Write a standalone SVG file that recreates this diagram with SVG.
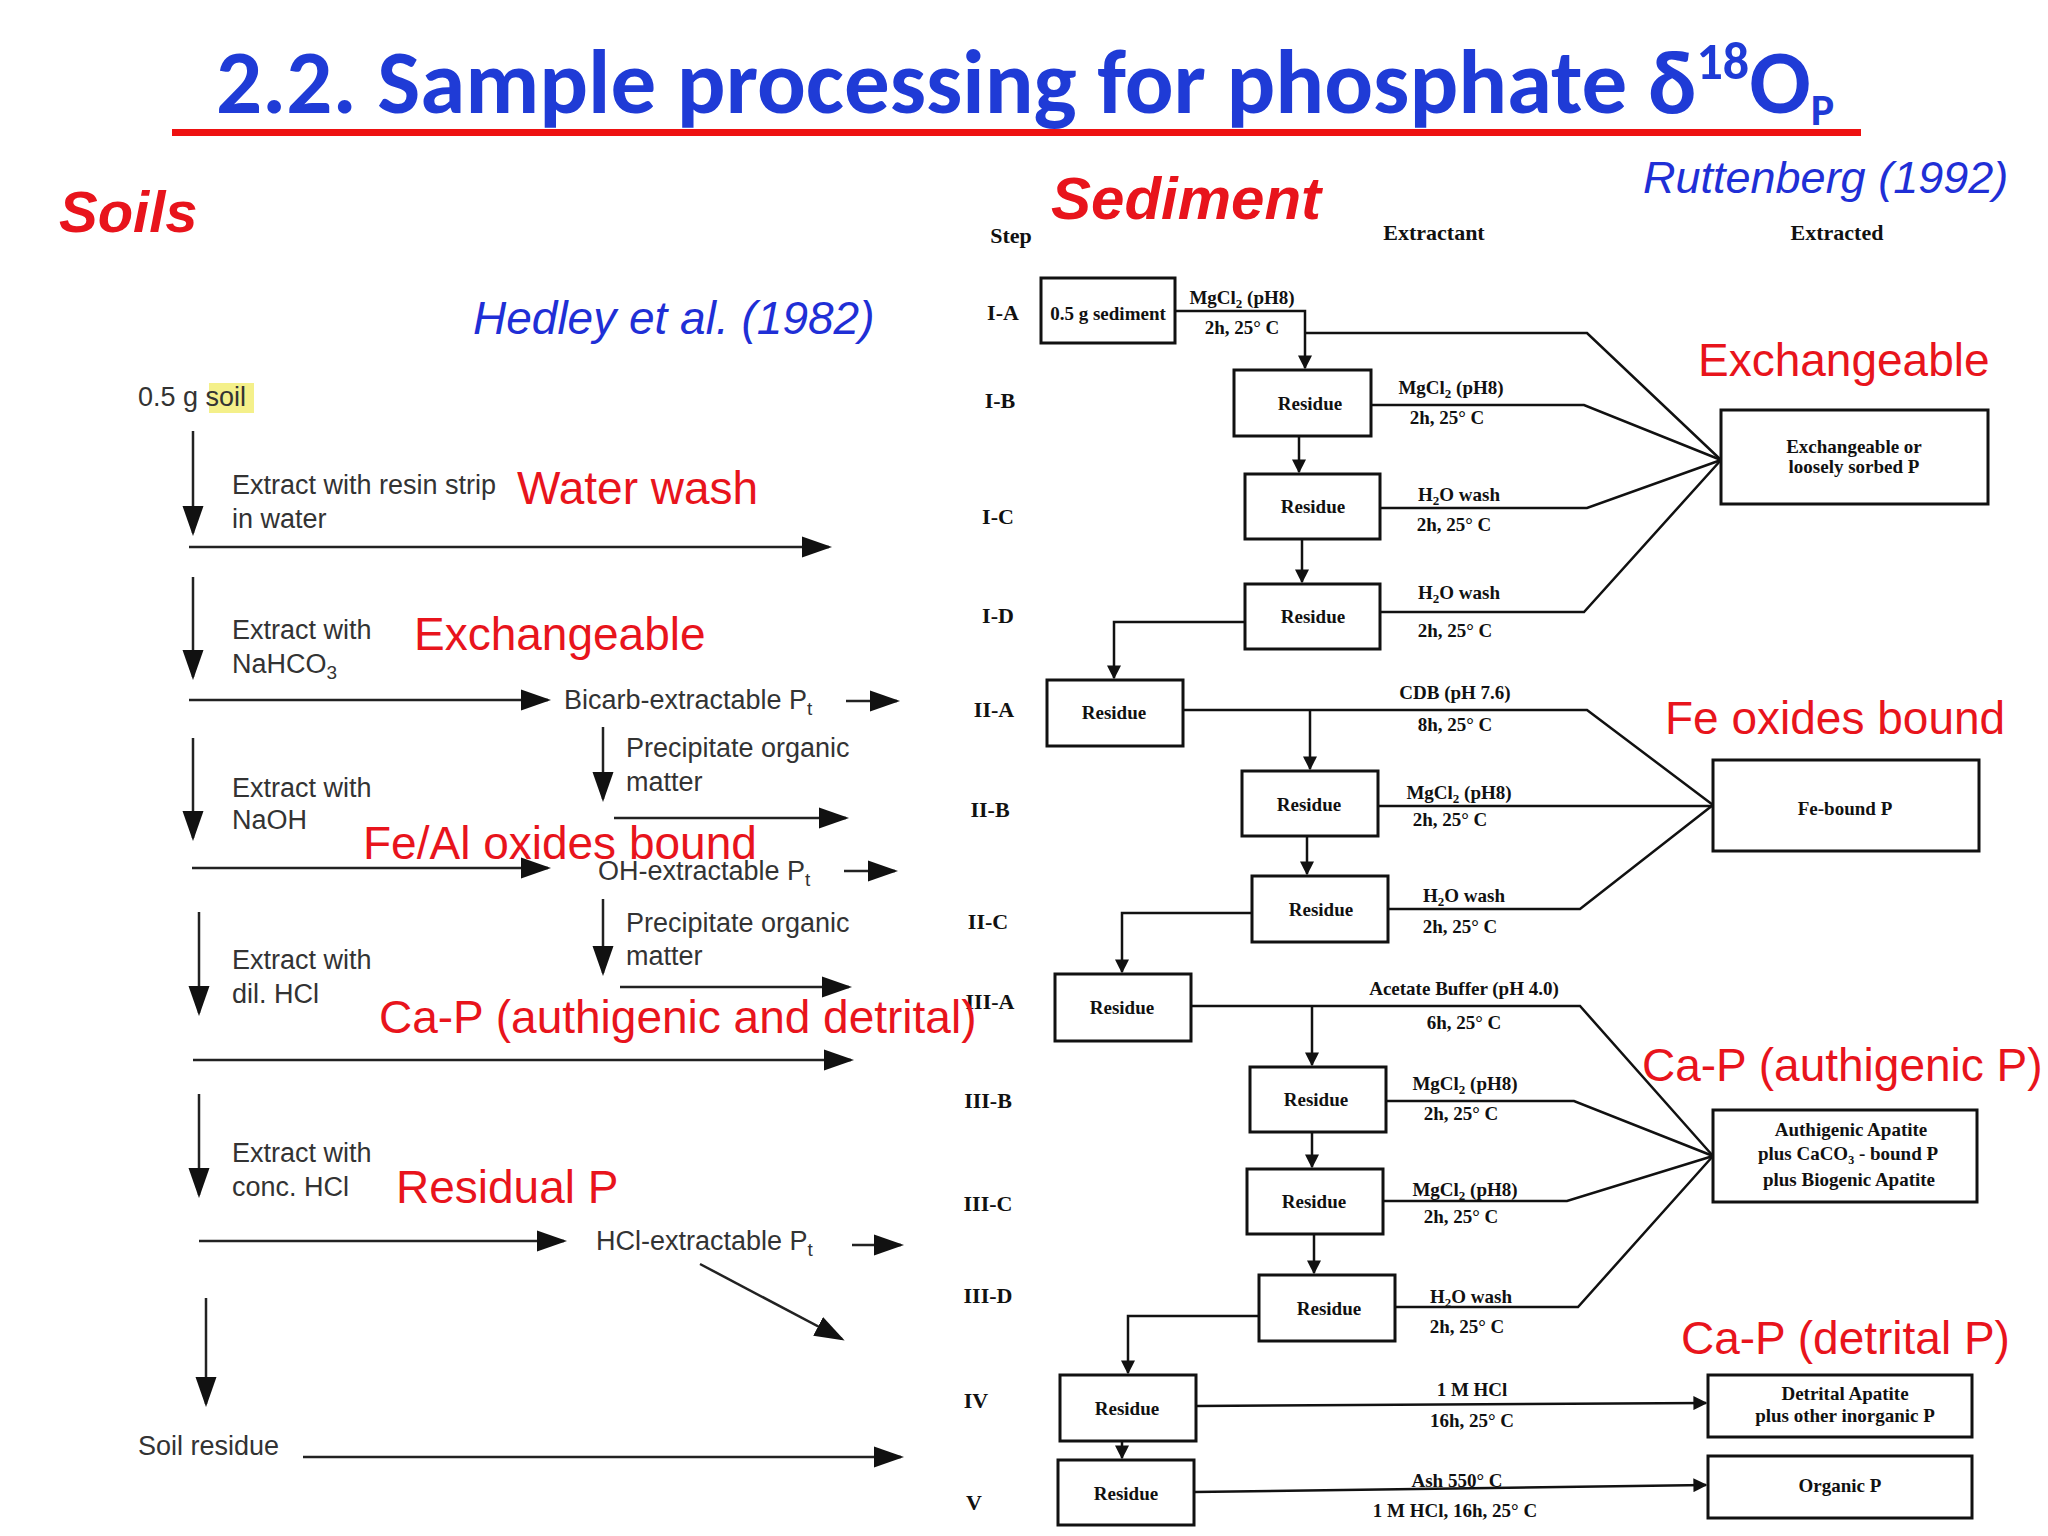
<svg xmlns="http://www.w3.org/2000/svg" width="2048" height="1536" viewBox="0 0 2048 1536">
<style>
.s{font-family:"Liberation Serif",serif;font-weight:bold;font-size:19px;fill:#111;text-anchor:middle}
.st{font-family:"Liberation Serif",serif;font-weight:bold;font-size:22px;fill:#111;text-anchor:middle}
.r{font-family:"Liberation Sans",sans-serif;font-size:46px;fill:#e8141c}
.l{font-family:"Liberation Sans",sans-serif;font-size:27px;fill:#333}
.b{fill:#fff;stroke:#111;stroke-width:3}
.c{fill:none;stroke:#111;stroke-width:2.5}
.cl{fill:none;stroke:#222;stroke-width:2.5}
</style>
<defs>
<marker id="a" viewBox="0 0 10 10" refX="9" refY="5" markerWidth="14" markerHeight="14" markerUnits="userSpaceOnUse" orient="auto"><path d="M0,0L10,5L0,10z" fill="#111"/></marker>
<marker id="A" viewBox="0 0 10 10" refX="9" refY="5" markerWidth="30" markerHeight="30" markerUnits="userSpaceOnUse" orient="auto"><path d="M0,1.5L10,5L0,8.5z" fill="#111"/></marker>
</defs>
<rect width="2048" height="1536" fill="#fff"/>
<g id="title">
<text x="1025" y="113" font-family="Calibri,'Liberation Sans',sans-serif" font-weight="bold" font-size="91" fill="#1f3bd6" text-anchor="middle">2.2. Sample processing for phosphate δ<tspan font-size="52" dy="-34">18</tspan><tspan dy="34">O</tspan><tspan font-size="44" dy="12">P</tspan></text>
<rect x="172" y="129" width="1689" height="7" fill="#ee1111"/>
</g>
<g id="headings">
<text x="59" y="232" font-family="'Liberation Sans',sans-serif" font-weight="bold" font-style="italic" font-size="58" fill="#e8141c">Soils</text>
<text x="1051" y="219" font-family="'Liberation Sans',sans-serif" font-weight="bold" font-style="italic" font-size="60" fill="#e8141c">Sediment</text>
<text x="1643" y="193" font-family="'Liberation Sans',sans-serif" font-style="italic" font-size="45" fill="#1f2fd6">Ruttenberg (1992)</text>
<text x="473" y="334" font-family="'Liberation Sans',sans-serif" font-style="italic" font-size="46" fill="#1f2fd6">Hedley et al. (1982)</text>
<text class="st" x="1011" y="243">Step</text>
<text class="st" x="1434" y="240">Extractant</text>
<text class="st" x="1837" y="240">Extracted</text>
</g>
<g id="steps" class="st">
<text class="st" x="1003" y="320">I-A</text><text class="st" x="1000" y="408">I-B</text><text class="st" x="998" y="524">I-C</text><text class="st" x="998" y="623">I-D</text>
<text class="st" x="994" y="717">II-A</text><text class="st" x="990" y="817">II-B</text><text class="st" x="988" y="929">II-C</text>
<text class="st" x="990" y="1009">III-A</text><text class="st" x="988" y="1108">III-B</text><text class="st" x="988" y="1211">III-C</text><text class="st" x="988" y="1303">III-D</text>
<text class="st" x="976" y="1408">IV</text><text class="st" x="974" y="1510">V</text>
</g>
<g id="connectors">
<polyline class="c" points="1175,311 1305,311 1305,368" marker-end="url(#a)"/>
<polyline class="c" points="1306,333 1587,333 1721,460"/>
<polyline class="c" points="1371,405 1584,405 1721,460"/>
<polyline class="c" points="1380,508 1587,508 1721,460"/>
<polyline class="c" points="1380,612 1584,612 1721,460"/>
<line class="c" x1="1299" y1="436" x2="1299" y2="472" marker-end="url(#a)"/>
<line class="c" x1="1302" y1="539" x2="1302" y2="582" marker-end="url(#a)"/>
<polyline class="c" points="1245,622 1114,622 1114,678" marker-end="url(#a)"/>
<polyline class="c" points="1183,710 1587,710 1713,805"/>
<line class="c" x1="1310" y1="710" x2="1310" y2="769" marker-end="url(#a)"/>
<line class="c" x1="1378" y1="806" x2="1713" y2="806"/>
<line class="c" x1="1307" y1="836" x2="1307" y2="874" marker-end="url(#a)"/>
<polyline class="c" points="1388,909 1580,909 1713,805"/>
<polyline class="c" points="1252,913 1122,913 1122,972" marker-end="url(#a)"/>
<polyline class="c" points="1191,1006 1580,1006 1713,1156"/>
<line class="c" x1="1312" y1="1006" x2="1312" y2="1065" marker-end="url(#a)"/>
<polyline class="c" points="1386,1101 1574,1101 1713,1156"/>
<line class="c" x1="1312" y1="1132" x2="1312" y2="1167" marker-end="url(#a)"/>
<polyline class="c" points="1383,1201 1567,1201 1713,1156"/>
<line class="c" x1="1314" y1="1234" x2="1314" y2="1273" marker-end="url(#a)"/>
<polyline class="c" points="1395,1307 1578,1307 1713,1156"/>
<polyline class="c" points="1259,1316 1128,1316 1128,1373" marker-end="url(#a)"/>
<line class="c" x1="1196" y1="1406" x2="1706" y2="1403" marker-end="url(#a)"/>
<line class="c" x1="1122" y1="1441" x2="1122" y2="1458" marker-end="url(#a)"/>
<line class="c" x1="1194" y1="1492" x2="1706" y2="1485" marker-end="url(#a)"/>
<line class="cl" x1="193" y1="431" x2="193" y2="533" marker-end="url(#A)"/>
<line class="cl" x1="189" y1="547" x2="829" y2="547" marker-end="url(#A)"/>
<line class="cl" x1="193" y1="577" x2="193" y2="677" marker-end="url(#A)"/>
<line class="cl" x1="189" y1="700" x2="548" y2="700" marker-end="url(#A)"/>
<line class="cl" x1="846" y1="701" x2="897" y2="701" marker-end="url(#A)"/>
<line class="cl" x1="603" y1="727" x2="603" y2="799" marker-end="url(#A)"/>
<line class="cl" x1="614" y1="818" x2="846" y2="818" marker-end="url(#A)"/>
<line class="cl" x1="193" y1="738" x2="193" y2="838" marker-end="url(#A)"/>
<line class="cl" x1="192" y1="868" x2="548" y2="868" marker-end="url(#A)"/>
<line class="cl" x1="844" y1="871" x2="895" y2="871" marker-end="url(#A)"/>
<line class="cl" x1="603" y1="899" x2="603" y2="973" marker-end="url(#A)"/>
<line class="cl" x1="620" y1="987" x2="849" y2="987" marker-end="url(#A)"/>
<line class="cl" x1="199" y1="912" x2="199" y2="1013" marker-end="url(#A)"/>
<line class="cl" x1="193" y1="1060" x2="851" y2="1060" marker-end="url(#A)"/>
<line class="cl" x1="199" y1="1094" x2="199" y2="1195" marker-end="url(#A)"/>
<line class="cl" x1="199" y1="1241" x2="564" y2="1241" marker-end="url(#A)"/>
<line class="cl" x1="852" y1="1245" x2="901" y2="1245" marker-end="url(#A)"/>
<line class="cl" x1="700" y1="1264" x2="842" y2="1339" marker-end="url(#A)"/>
<line class="cl" x1="206" y1="1298" x2="206" y2="1404" marker-end="url(#A)"/>
<line class="cl" x1="303" y1="1457" x2="901" y2="1457" marker-end="url(#A)"/>
</g>
<g id="n-start"><rect class="b" x="1041" y="278" width="134" height="65"/><text class="s" x="1108" y="320" font-size="18">0.5 g sediment</text></g>
<g id="n-IB"><rect class="b" x="1234" y="370" width="137" height="66"/><text class="s" x="1310" y="410">Residue</text></g>
<g id="n-IC"><rect class="b" x="1245" y="474" width="135" height="65"/><text class="s" x="1313" y="513">Residue</text></g>
<g id="n-ID"><rect class="b" x="1245" y="584" width="135" height="65"/><text class="s" x="1313" y="623">Residue</text></g>
<g id="n-IIA"><rect class="b" x="1047" y="680" width="136" height="66"/><text class="s" x="1114" y="719">Residue</text></g>
<g id="n-IIB"><rect class="b" x="1242" y="771" width="136" height="65"/><text class="s" x="1309" y="811">Residue</text></g>
<g id="n-IIC"><rect class="b" x="1252" y="876" width="136" height="66"/><text class="s" x="1321" y="916">Residue</text></g>
<g id="n-IIIA"><rect class="b" x="1055" y="974" width="136" height="67"/><text class="s" x="1122" y="1014">Residue</text></g>
<g id="n-IIIB"><rect class="b" x="1250" y="1067" width="136" height="65"/><text class="s" x="1316" y="1106">Residue</text></g>
<g id="n-IIIC"><rect class="b" x="1247" y="1169" width="136" height="65"/><text class="s" x="1314" y="1208">Residue</text></g>
<g id="n-IIID"><rect class="b" x="1259" y="1275" width="136" height="66"/><text class="s" x="1329" y="1315">Residue</text></g>
<g id="n-IV"><rect class="b" x="1060" y="1375" width="136" height="66"/><text class="s" x="1127" y="1415">Residue</text></g>
<g id="n-V"><rect class="b" x="1058" y="1460" width="136" height="65"/><text class="s" x="1126" y="1500">Residue</text></g>
<g id="extractants">
<text class="s" x="1242" y="304">MgCl<tspan font-size="13" dy="4">2</tspan><tspan dy="-4"> (pH8)</tspan></text><text class="s" x="1242" y="334">2h, 25° C</text>
<text class="s" x="1451" y="394">MgCl<tspan font-size="13" dy="4">2</tspan><tspan dy="-4"> (pH8)</tspan></text><text class="s" x="1447" y="424">2h, 25° C</text>
<text class="s" x="1459" y="501">H<tspan font-size="13" dy="4">2</tspan><tspan dy="-4">O wash</tspan></text><text class="s" x="1454" y="531">2h, 25° C</text>
<text class="s" x="1459" y="599">H<tspan font-size="13" dy="4">2</tspan><tspan dy="-4">O wash</tspan></text><text class="s" x="1455" y="637">2h, 25° C</text>
<text class="s" x="1455" y="699">CDB (pH 7.6)</text><text class="s" x="1455" y="731">8h, 25° C</text>
<text class="s" x="1459" y="799">MgCl<tspan font-size="13" dy="4">2</tspan><tspan dy="-4"> (pH8)</tspan></text><text class="s" x="1450" y="826">2h, 25° C</text>
<text class="s" x="1464" y="902">H<tspan font-size="13" dy="4">2</tspan><tspan dy="-4">O wash</tspan></text><text class="s" x="1460" y="933">2h, 25° C</text>
<text class="s" x="1464" y="995">Acetate Buffer (pH 4.0)</text><text class="s" x="1464" y="1029">6h, 25° C</text>
<text class="s" x="1465" y="1090">MgCl<tspan font-size="13" dy="4">2</tspan><tspan dy="-4"> (pH8)</tspan></text><text class="s" x="1461" y="1120">2h, 25° C</text>
<text class="s" x="1465" y="1196">MgCl<tspan font-size="13" dy="4">2</tspan><tspan dy="-4"> (pH8)</tspan></text><text class="s" x="1461" y="1223">2h, 25° C</text>
<text class="s" x="1471" y="1303">H<tspan font-size="13" dy="4">2</tspan><tspan dy="-4">O wash</tspan></text><text class="s" x="1467" y="1333">2h, 25° C</text>
<text class="s" x="1472" y="1396">1 M HCl</text><text class="s" x="1472" y="1427">16h, 25° C</text>
<text class="s" x="1457" y="1487">Ash 550° C</text><text class="s" x="1455" y="1517">1 M HCl, 16h, 25° C</text>
</g>
<g id="r-exch"><rect class="b" x="1721" y="410" width="267" height="94"/><text class="s" x="1854" y="453" font-size="18">Exchangeable or</text><text class="s" x="1854" y="473" font-size="18">loosely sorbed P</text></g>
<g id="r-fe"><rect class="b" x="1713" y="760" width="266" height="91"/><text class="s" x="1845" y="815" font-size="18">Fe-bound   P</text></g>
<g id="r-auth"><rect class="b" x="1713" y="1110" width="264" height="92"/><text class="s" x="1851" y="1136" font-size="18">Authigenic  Apatite</text><text class="s" x="1848" y="1160" font-size="17">plus CaCO<tspan font-size="12" dy="4">3</tspan><tspan dy="-4"> - bound P</tspan></text><text class="s" x="1849" y="1186" font-size="18">plus Biogenic Apatite</text></g>
<g id="r-det"><rect class="b" x="1708" y="1375" width="264" height="62"/><text class="s" x="1845" y="1400" font-size="18">Detrital  Apatite</text><text class="s" x="1845" y="1422" font-size="16">plus other inorganic   P</text></g>
<g id="r-org"><rect class="b" x="1708" y="1456" width="264" height="62"/><text class="s" x="1840" y="1492" font-size="18">Organic   P</text></g>
<g id="red-labels">
<text class="r" x="1698" y="376">Exchangeable</text>
<text class="r" x="1665" y="734">Fe oxides bound</text>
<text class="r" x="1642" y="1081">Ca-P (authigenic P)</text>
<text class="r" x="1681" y="1354">Ca-P (detrital P)</text>
<text class="r" x="517" y="504">Water wash</text>
<text class="r" x="414" y="650">Exchangeable</text>
<text class="r" x="363" y="859">Fe/Al oxides bound</text>
<text class="r" x="379" y="1033">Ca-P (authigenic and detrital)</text>
<text class="r" x="396" y="1203">Residual P</text>
</g>
<g id="soil-texts">
<rect x="209" y="383" width="45" height="30" fill="#f4f08a"/>
<text class="l" x="138" y="406">0.5 g soil</text>
<text class="l" x="232" y="494">Extract with resin strip</text><text class="l" x="232" y="528">in water</text>
<text class="l" x="232" y="639">Extract with</text><text class="l" x="232" y="673">NaHCO<tspan font-size="19" dy="6">3</tspan></text>
<text class="l" x="564" y="709">Bicarb-extractable P<tspan font-size="19" dy="6">t</tspan></text>
<text class="l" x="626" y="757">Precipitate organic</text><text class="l" x="626" y="791">matter</text>
<text class="l" x="232" y="797">Extract with</text><text class="l" x="232" y="829">NaOH</text>
<text class="l" x="598" y="880">OH-extractable P<tspan font-size="19" dy="6">t</tspan></text>
<text class="l" x="626" y="932">Precipitate organic</text><text class="l" x="626" y="965">matter</text>
<text class="l" x="232" y="969">Extract with</text><text class="l" x="232" y="1003">dil. HCl</text>
<text class="l" x="232" y="1162">Extract with</text><text class="l" x="232" y="1196">conc. HCl</text>
<text class="l" x="596" y="1250">HCl-extractable P<tspan font-size="19" dy="6">t</tspan></text>
<text class="l" x="138" y="1455">Soil residue</text>
</g>
</svg>
